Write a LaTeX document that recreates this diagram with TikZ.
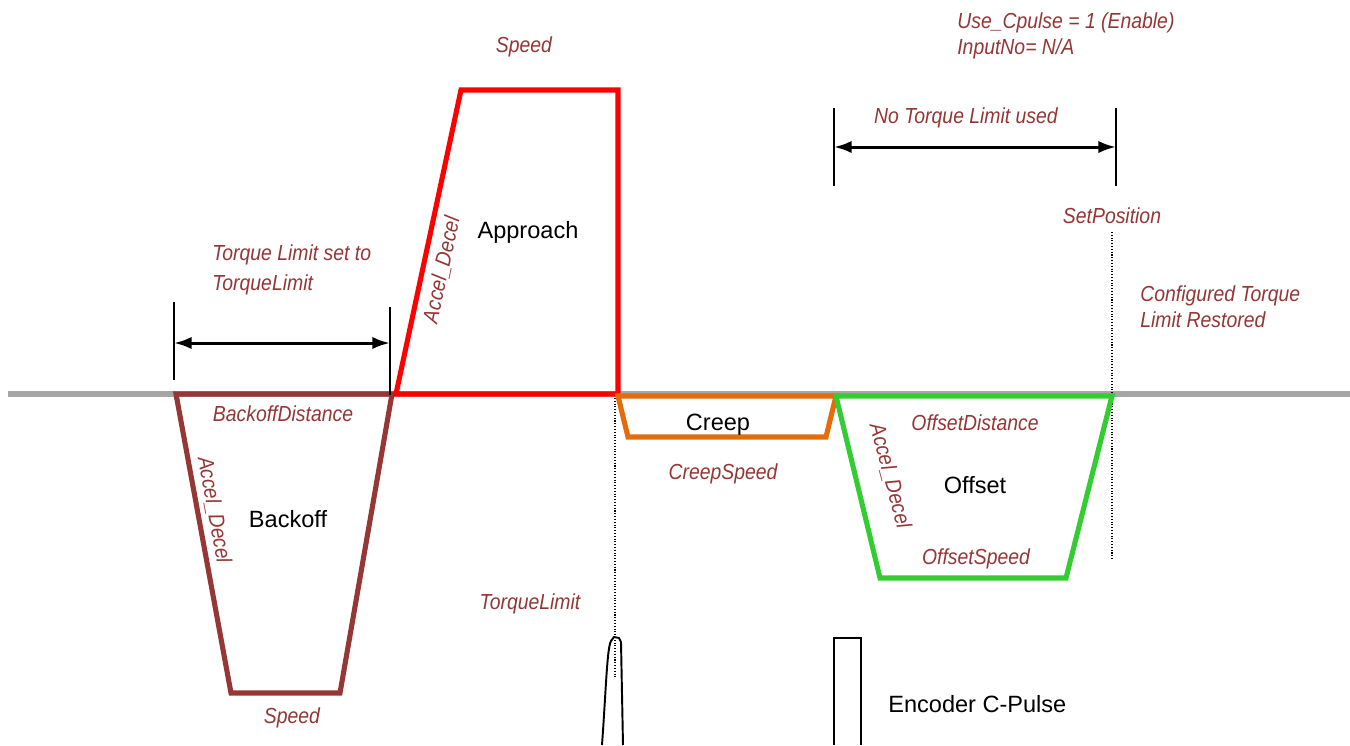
\documentclass[tikz,border=0pt]{standalone}
\usepackage{fontspec}
\setmainfont{Liberation Sans}
\newfontfamily\notefont[FakeStretch=0.89]{Liberation Sans}
\usetikzlibrary{arrows.meta}
\definecolor{noteRed}{HTML}{943634}
\definecolor{backoffC}{HTML}{953735}
\definecolor{approachC}{HTML}{FF0000}
\definecolor{creepC}{HTML}{E46C0A}
\definecolor{offsetC}{HTML}{33CC33}
\definecolor{axisC}{HTML}{A6A6A6}

\begin{document}
\begin{tikzpicture}[x=0.02cm,y=-0.02cm,>=Latex,
  note/.style={text=noteRed,font=\notefont\itshape\fontsize{12.4}{15}\selectfont,inner sep=0pt},
  phase/.style={font=\fontsize{13.4}{16}\selectfont,inner sep=0pt},
  profile/.style={line width=2.9pt},
  dim/.style={line width=1.7pt,{Latex[length=10pt,width=7pt]}-{Latex[length=10pt,width=7pt]}},
  tickline/.style={line width=0.8pt},
  marker/.style={densely dotted,line width=0.6pt}]
  \useasboundingbox (0,0) rectangle (1350,745);
  % base line
  \draw[axisC,line width=3pt] (8,394) -- (1350,394);
  % markers
  \draw[marker] (615,398) -- (615,678);
  \draw[marker] (1112,232) -- (1112,560);
  % motion profiles
  \draw[profile,backoffC] (176,394) -- (392,394) -- (340,693) -- (231,693) -- cycle;
  \draw[profile,approachC] (396,394) -- (461,90) -- (618,90) -- (618,394) -- cycle;
  \draw[profile,creepC] (618,396) -- (836,396) -- (826,437) -- (628,437) -- cycle;
  \draw[profile,offsetC] (836,396) -- (1112,396) -- (1066,578) -- (880,578) -- cycle;
  % torque limit ranges
  \coordinate (tlA) at (174,343);
  \coordinate (tlB) at (390,343);
  \draw[tickline] (174,302) -- (174,380);
  \draw[tickline] (390,307) -- (390,395);
  \draw[dim] (tlA) -- (tlB);
  \coordinate (ntA) at (834,147);
  \coordinate (ntB) at (1116,147);
  \draw[tickline] (834,108) -- (834,186);
  \draw[tickline] (1116,108) -- (1116,186);
  \draw[dim] (ntA) -- (ntB);
  % encoder pulses
  \draw[line width=1.1pt] (602,745) .. controls (606,690) and (607,648) .. (611,641)
    -- (614,637) -- (619,638) -- (621,642) -- (623,745);
  \draw[line width=1.1pt] (834,745) -- (834,638) -- (861,638) -- (861,745);
  % phase names
  \node[phase] (approach) at (528,232) {Approach};
  \node[phase] (backoff) at (288,519) {Backoff};
  \node[phase] (creep) at (718,425) {Creep};
  \node[phase] (offset) at (975,485) {Offset};
  \node[phase,anchor=west] (cpulse) at (888,704) {Encoder C-Pulse};
  % parameters
  \node[note,anchor=west,align=left] (cfg) at (957,36) {Use\_Cpulse = 1 (Enable)\\InputNo= N/A};
  \node[note] (apprSpeed) at (524,47) {Speed};
  \node[note] (noTorque) at (966,118) {No Torque Limit used};
  \node[note] (setPos) at (1112,216) {SetPosition};
  \node[note,anchor=west,align=left,font=\notefont\itshape\fontsize{12.4}{17}\selectfont] (tlSet) at (212,270) {Torque Limit set to\\TorqueLimit};
  \node[note,anchor=west,align=left] (restored) at (1140,307) {Configured Torque\\Limit Restored};
  \node[note,rotate=77.9] (apprAD) at (442,270) {Accel\_Decel};
  \node[note] (boDist) at (283,414) {BackoffDistance};
  \node[note,rotate=-79.6] (boAD) at (214,510) {Accel\_Decel};
  \node[note] (boSpeed) at (292,718) {Speed};
  \node[note] (crSpeed) at (723,474) {CreepSpeed};
  \node[note] (ofDist) at (975,423) {OffsetDistance};
  \node[note,rotate=-75] (ofAD) at (890,476) {Accel\_Decel};
  \node[note] (ofSpeed) at (976,559) {OffsetSpeed};
  \node[note] (tqLimit) at (530,604) {TorqueLimit};
\end{tikzpicture}
\end{document}
